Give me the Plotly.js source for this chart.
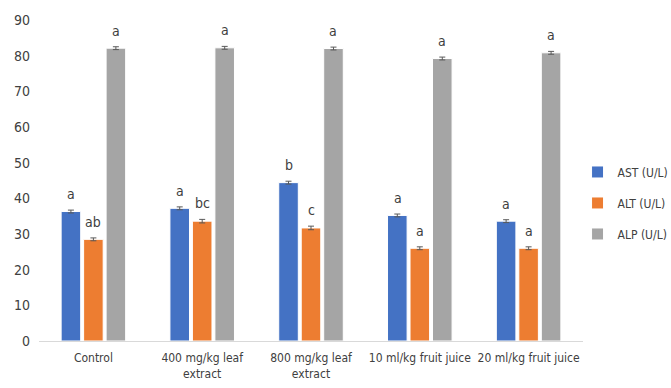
<!DOCTYPE html>
<html>
<head>
<meta charset="utf-8">
<script src="https://cdn.plot.ly/plotly-3.0.1.min.js"></script>
<style>html,body{margin:0;padding:0;background:#fff;}#chart{width:671px;height:388px;}</style>
</head>
<body>
<div id="chart"></div>
<script>
const categories = ["Control", "400 mg/kg leaf<br>extract", "800 mg/kg leaf<br>extract", "10 ml/kg fruit juice", "20 ml/kg fruit juice"];
const seriesNames = ["AST (U/L)", "ALT (U/L)", "ALP (U/L)"];
const astValues = [36.3, 37.2, 44.4, 35.2, 33.6];
const altValues = [28.5, 33.6, 31.7, 26.0, 26.0];
const alpValues = [82.1, 82.2, 82.0, 79.2, 80.8];
const astErr = [0.4, 0.4, 0.4, 0.4, 0.4];
const altErr = [0.4, 0.5, 0.5, 0.4, 0.4];
const alpErr = [0.4, 0.4, 0.4, 0.4, 0.4];
const astLetters = ["a", "a", "b", "a", "a"];
const altLetters = ["ab", "bc", "c", "a", "a"];
const alpLetters = ["a", "a", "a", "a", "a"];
const colors = ["#4472C4", "#ED7D31", "#A5A5A5"];

const values = [astValues, altValues, alpValues];
const errs = [astErr, altErr, alpErr];
const letters = [astLetters, altLetters, alpLetters];

const FONT = "DejaVu Sans Condensed, Liberation Sans Narrow, sans-serif";

const traces = values.map((v, i) => ({
  type: "bar",
  name: seriesNames[i],
  legendgroup: "g" + i,
  x: categories,
  y: v,
  marker: {color: colors[i], line: {color: "#ffffff", width: 1}},
  error_y: {type: "data", array: errs[i], visible: true, color: "#595959", thickness: 1, width: 3}
}));

const slot = 22.3;
const annotations = [];
values.forEach((v, i) => {
  v.forEach((val, j) => {
    annotations.push({
      x: categories[j], y: val + errs[i][j], xref: "x", yref: "y",
      text: letters[i][j], showarrow: false, xshift: (i - 1) * slot, yshift: 16,
      font: {family: FONT, size: 14, color: "#404040"}
    });
  });
});

const layout = {
  width: 671, height: 388,
  margin: {l: 39, r: 88, t: 20, b: 47, autoexpand: false},
  paper_bgcolor: "#ffffff", plot_bgcolor: "#ffffff",
  barmode: "group", bargap: 0.38, bargroupgap: 0.13,
  font: {family: FONT, size: 14, color: "#595959"},
  xaxis: {showline: true, linecolor: "#D9D9D9", linewidth: 1, ticks: "", showgrid: false,
          tickangle: 0, automargin: false, ticklabelstandoff: 6,
          tickfont: {family: FONT, size: 12, color: "#404040"}},
  yaxis: {range: [0, 90], dtick: 10, showgrid: false, zeroline: false, showline: false,
          automargin: false,
          ticks: "", tickfont: {family: FONT, size: 14, color: "#404040"}, ticklabelstandoff: 8},
  legend: {x: 0.99, xanchor: "left", y: 0.43, yanchor: "middle", tracegroupgap: 12,
           itemwidth: 30, borderwidth: 0, bgcolor: "rgba(0,0,0,0)",
           font: {family: FONT, size: 12, color: "#404040"}},
  annotations: annotations,
  showlegend: true
};

Plotly.newPlot("chart", traces, layout, {displayModeBar: false, staticPlot: true});
</script>
</body>
</html>
